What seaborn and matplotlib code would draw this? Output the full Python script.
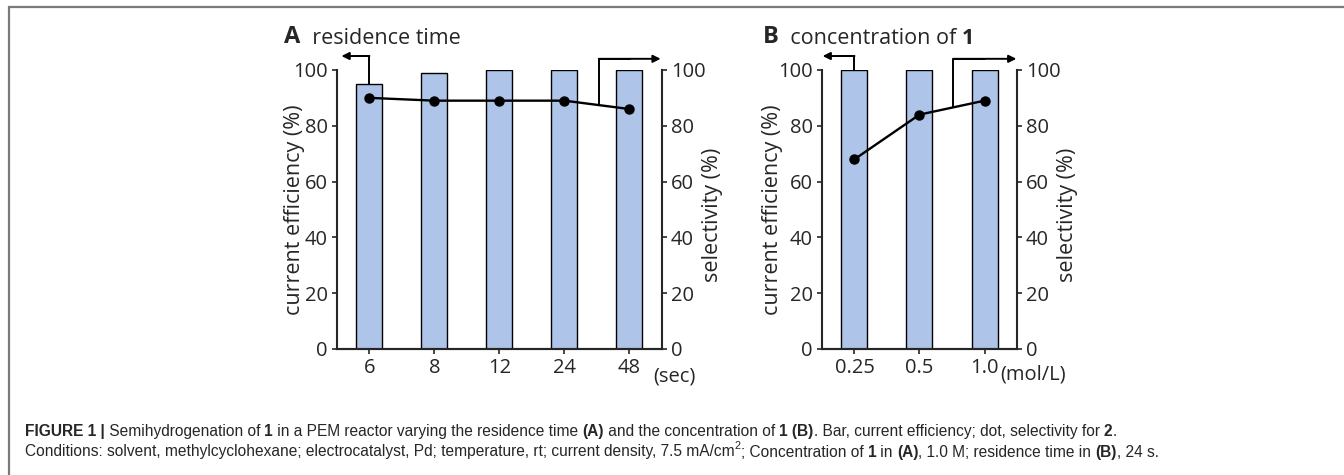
import matplotlib.pyplot as plt
import numpy as np
import pandas as pd
import seaborn as sns
from matplotlib.lines import Line2D

# -----------------------------------------------------------------------------
# Data
# -----------------------------------------------------------------------------
time_labels = ["6", "8", "12", "24", "48"]
time_efficiency = [95, 99, 100, 100, 100]
time_selectivity = [90, 89, 89, 89, 86]

conc_labels = ["0.25", "0.5", "1.0"]
conc_efficiency = [100, 100, 100]
conc_selectivity = [68, 84, 89]

BAR_COLOR = "#aec4e8"
CHART_FONT = ["Open Sans", "DejaVu Sans"]
CAPTION_FONT = ["Liberation Sans", "DejaVu Sans"]
TICK_SIZE = 14.5
LABEL_SIZE = 15.5

sns.set_style("ticks")
plt.rcParams["font.family"] = CHART_FONT
plt.rcParams["axes.linewidth"] = 1.5


def draw_panel(ax, labels, efficiency, selectivity, unit, unit_pos, lab_x):
    df = pd.DataFrame({"x": labels, "eff": efficiency})
    sns.barplot(data=df, x="x", y="eff", ax=ax, color=BAR_COLOR,
                edgecolor="black", linewidth=1.0, width=0.4, saturation=1)
    ax.set_xlim(-0.5, len(labels) - 0.5)
    ax.set_ylim(0, 100)
    ax.set_yticks(range(0, 101, 20))
    ax.set_xlabel("")
    ax.set_ylabel("current efficiency (%)", fontsize=LABEL_SIZE)
    ax.yaxis.set_label_coords(lab_x[0], 0.5)
    ax.tick_params(axis="both", labelsize=TICK_SIZE, length=3.5, width=1.2,
                   pad=3)
    ax.spines["top"].set_visible(False)
    ax.spines["right"].set_visible(False)

    ax2 = ax.twinx()
    xs = np.arange(len(labels))
    ax2.plot(xs, selectivity, color="black", lw=1.7, marker="o", ms=6.5)
    ax2.set_ylim(0, 100)
    ax2.set_yticks(range(0, 101, 20))
    ax2.set_ylabel("selectivity (%)", fontsize=LABEL_SIZE)
    ax2.yaxis.set_label_coords(lab_x[1], 0.48)
    ax2.tick_params(axis="y", labelsize=TICK_SIZE, length=3.5, width=1.2,
                    pad=3)
    ax2.spines["top"].set_visible(False)
    ax2.spines["left"].set_visible(False)

    ax.text(unit_pos[0], unit_pos[1], unit, transform=ax.transAxes,
            fontsize=TICK_SIZE, ha="left", va="top")
    return ax2


def draw_bent_arrow(ax, x0, y0, y1, x1):
    ax.add_line(Line2D([x0, x0, (x0 + x1) / 2], [y0, y1, y1], color="black",
                       lw=1.4, clip_on=False))
    ax.annotate("", xy=(x1, y1), xytext=(x0, y1), xycoords="data",
                arrowprops=dict(arrowstyle="-|>", color="black", lw=1.4,
                                shrinkA=0, shrinkB=0, mutation_scale=11),
                annotation_clip=False)


def chain_text(x, y, parts, size, family, fig):
    prev = fig.text(x, y, parts[0][0], fontsize=size, family=family,
                    fontweight=parts[0][1], ha="left", va="baseline")
    for txt, weight in parts[1:]:
        prev = plt.annotate(txt, xy=(1, 0), xycoords=prev, fontsize=size,
                            family=family, fontweight=weight,
                            ha="left", va="bottom")
    return prev


fig = plt.figure(figsize=(13.44, 4.75), dpi=100)

ax_a = fig.add_axes([0.2507, 0.2653, 0.2418, 0.5874])
ax_b = fig.add_axes([0.6116, 0.2653, 0.1451, 0.5874])

draw_panel(ax_a, time_labels, time_efficiency, time_selectivity, "(sec)",
           (0.972, -0.062), (-0.098, 1.123))
draw_panel(ax_b, conc_labels, conc_efficiency, conc_selectivity, "(mol/L)",
           (0.913, -0.055), (-0.2, 1.205))

# arrows pointing to the axis each series belongs to
draw_bent_arrow(ax_a, 0, time_efficiency[0], 105, -0.43)
xr = 3.53
draw_bent_arrow(ax_a, xr, np.interp(xr, range(5), time_selectivity), 104, 4.48)
draw_bent_arrow(ax_b, 0, conc_efficiency[0], 105, -0.49)
xr = 1.52
draw_bent_arrow(ax_b, xr, np.interp(xr, range(3), conc_selectivity), 104, 2.49)

# panel titles
t = fig.text(0.2115, 0.909, "A", fontsize=17, fontweight="bold",
             family=CHART_FONT, ha="left", va="baseline")
plt.annotate("  residence time", xy=(1, 0), xycoords=t, fontsize=15.5,
             family=CHART_FONT, ha="left", va="bottom")
t = fig.text(0.5675, 0.909, "B", fontsize=17, fontweight="bold",
             family=CHART_FONT, ha="left", va="baseline")
t = plt.annotate("  concentration of ", xy=(1, 0), xycoords=t, fontsize=15.5,
                 family=CHART_FONT, ha="left", va="bottom")
plt.annotate("1", xy=(1, 0), xycoords=t, fontsize=15.5, fontweight="bold",
             family=CHART_FONT, ha="left", va="bottom")

# frame lines
fig.add_artist(Line2D([0.0067, 1.0], [0.986, 0.986], color="#7a7a7a", lw=1.6,
                      transform=fig.transFigure))
fig.add_artist(Line2D([0.0067, 0.0067], [0.0, 0.986], color="#7a7a7a", lw=1.6,
                      transform=fig.transFigure))

# caption
CAP = 11.2
line1 = [("FIGURE 1 |", "bold"), (" Semihydrogenation of ", "normal"),
         ("1", "bold"), (" in a PEM reactor varying the residence time ", "normal"),
         ("(A)", "bold"), (" and the concentration of ", "normal"),
         ("1 (B)", "bold"),
         (". Bar, current efficiency; dot, selectivity for ", "normal"),
         ("2", "bold"), (".", "normal")]
chain_text(0.0186, 0.083, line1, CAP, CAPTION_FONT, fig)

t = fig.text(0.0186, 0.041,
             "Conditions: solvent, methylcyclohexane; electrocatalyst, Pd; "
             "temperature, rt; current density, 7.5 mA/cm",
             fontsize=CAP, family=CAPTION_FONT, ha="left", va="baseline")
t = plt.annotate("2", xy=(1, 0.5), xycoords=t, fontsize=CAP * 0.7,
                 family=CAPTION_FONT, ha="left", va="bottom")
t = plt.annotate("; Concentration of ", xy=(1, 0), xycoords=t,
                 xytext=(0, -0.5 * CAP * 1.15), textcoords="offset points",
                 fontsize=CAP, family=CAPTION_FONT, ha="left", va="bottom")
line2_rest = [("1", "bold"), (" in ", "normal"), ("(A)", "bold"),
              (", 1.0 M; residence time in ", "normal"), ("(B)", "bold"),
              (", 24 s.", "normal")]
for txt, weight in line2_rest:
    t = plt.annotate(txt, xy=(1, 0), xycoords=t, fontsize=CAP,
                     family=CAPTION_FONT, fontweight=weight,
                     ha="left", va="bottom")

fig.savefig("out.png", dpi=100)
